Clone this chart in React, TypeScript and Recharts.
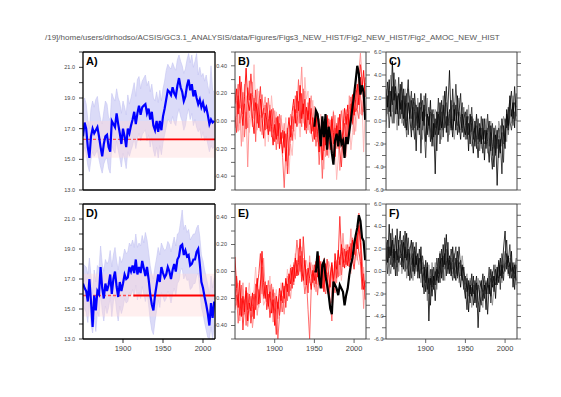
import {
  Area,
  ComposedChart,
  Line,
  ReferenceArea,
  ReferenceLine,
  XAxis,
  YAxis,
} from "recharts";

const TITLE =
  "/19]/home/users/dirhodso/ACSIS/GC3.1_ANALYSIS/data/Figures/Figs3_NEW_HIST/Fig2_NEW_HIST/Fig2_AMOC_NEW_HIST";
const FONT = "'Liberation Sans', Arial, sans-serif";

// two-yearly samples, 1850..2014
const years = Array.from({ length: 83 }, (_, i) => 1850 + 2 * i);
const OBS_START = 1950;
const X_DOMAIN: [number, number] = [1850, 2015];
const yearTicks = [1900, 1950, 2000];

const tempTicks = [13, 14, 15, 16, 17, 18, 19, 20, 21, 22];
const indexTicks = [-0.5, -0.4, -0.3, -0.2, -0.1, 0, 0.1, 0.2, 0.3, 0.4, 0.5];
const indexLabels = [-0.4, -0.2, 0, 0.2, 0.4];
const amocTicks = [-6, -5, -4, -3, -2, -1, 0, 1, 2, 3, 4, 5, 6];

// ---- A) ----
const aMean = [
  16.5, 17.4, 17.0, 15.8, 15.1, 16.5, 17.0, 16.7, 16.9, 17.1,
  16.5, 15.8, 15.2, 16.0, 16.5, 16.6, 15.8, 15.5, 17.5, 17.3,
  17.1, 18.0, 17.3, 16.7, 16.0, 17.0, 16.5, 15.8, 17.0, 16.7,
  17.2, 17.6, 18.1, 17.3, 18.0, 18.5, 17.9, 18.4, 18.5, 18.6,
  18.0, 18.3, 17.6, 18.1, 17.2, 16.9, 17.5, 16.8, 17.5, 16.9,
  17.8, 18.3, 18.9, 19.5, 19.4, 19.2, 19.7, 19.3, 19.1, 19.8,
  20.3, 19.7, 19.4, 18.8, 19.1, 19.8, 20.2, 19.5, 19.9, 19.1,
  19.5, 19.0, 18.6, 18.9, 18.4, 18.7, 18.2, 18.4, 17.9, 17.3,
  17.6, 17.4, 17.5,
];
const aHi = [
  18.4, 19.0, 18.6, 17.6, 17.0, 18.3, 18.8, 18.4, 18.9, 19.1,
  18.2, 17.6, 17.3, 18.1, 18.8, 18.6, 17.7, 17.6, 19.3, 19.0,
  18.8, 19.6, 19.0, 18.7, 18.0, 18.8, 18.4, 17.9, 19.2, 18.6,
  19.0, 19.5, 20.0, 19.1, 20.2, 20.4, 19.6, 20.1, 20.3, 20.5,
  19.8, 20.1, 19.4, 19.9, 19.0, 18.8, 19.4, 18.7, 19.5, 18.8,
  19.6, 20.1, 20.8, 21.2, 21.0, 20.9, 21.3, 21.0, 20.8, 21.5,
  21.8, 21.4, 21.1, 20.6, 20.9, 21.5, 21.9, 21.3, 21.8, 21.0,
  21.4, 21.9, 20.5, 21.0, 20.4, 20.6, 20.1, 20.5, 19.8, 19.3,
  21.1, 19.5, 19.4,
];
const aLo = [
  15.3, 15.8, 15.4, 14.6, 14.2, 15.0, 15.5, 15.2, 15.4, 15.6,
  15.0, 14.5, 14.1, 14.7, 15.0, 15.1, 14.4, 14.1, 15.9, 15.6,
  15.4, 16.2, 15.6, 15.1, 14.5, 15.4, 15.0, 14.4, 15.5, 15.2,
  15.6, 15.9, 16.4, 15.7, 16.3, 16.7, 16.2, 16.6, 16.8, 16.9,
  16.2, 16.6, 15.8, 16.4, 15.6, 15.2, 15.8, 15.1, 15.9, 15.3,
  16.1, 16.6, 17.1, 17.6, 17.5, 17.3, 17.8, 17.4, 17.2, 17.9,
  18.3, 17.8, 17.5, 16.9, 17.2, 17.9, 18.3, 17.6, 18.0, 17.2,
  17.6, 17.1, 16.8, 17.0, 16.4, 16.8, 16.2, 16.5, 16.0, 15.5,
  15.9, 15.7, 15.8,
];
const aClim = 16.3;
const aClimFrom = 1918;
const aRange: [number, number] = [15.1, 17.5];

// ---- D) ----
const dMean = [
  16.7, 16.4, 16.2, 15.5, 17.0, 15.5, 13.8, 15.9, 14.9, 16.2,
  16.0, 17.8, 16.4, 15.7, 16.7, 16.2, 16.6, 17.3, 16.0, 17.0,
  17.5, 16.5, 15.8, 16.8, 16.2, 16.7, 17.3, 17.0, 17.1, 17.8,
  17.5, 17.9, 17.4, 18.3, 17.3, 17.8, 17.4, 18.2, 17.7, 17.2,
  17.8, 17.0, 16.0, 15.3, 14.9, 15.9, 16.6, 17.3, 16.8, 17.8,
  17.4, 17.1, 17.3, 17.8, 17.5, 17.0, 17.6, 18.0, 17.5, 18.3,
  18.5, 19.2, 19.3, 18.6, 18.9, 18.5, 18.6, 17.9, 18.0, 18.3,
  18.3, 18.8, 19.0, 18.0, 16.8, 16.4, 15.8, 15.3, 14.7, 13.9,
  15.4, 14.4, 15.5,
];
const dHi = [
  18.0, 17.9, 17.8, 17.3, 18.4, 17.2, 16.0, 17.6, 16.8, 17.9,
  17.7, 19.2, 18.0, 17.5, 18.3, 18.0, 18.2, 18.9, 17.8, 18.6,
  19.1, 18.2, 17.6, 18.5, 18.1, 18.4, 19.0, 18.7, 18.8, 19.4,
  19.2, 19.6, 19.1, 20.0, 19.1, 19.4, 19.2, 19.9, 19.4, 20.1,
  19.6, 18.8, 17.9, 17.3, 17.0, 17.8, 18.4, 19.1, 18.6, 19.4,
  19.1, 18.9, 19.0, 19.5, 19.3, 18.8, 19.3, 19.8, 19.2, 20.0,
  20.1, 20.8, 21.6, 20.3, 20.6, 20.1, 20.3, 19.6, 19.8, 20.0,
  20.0, 20.4, 20.6, 19.8, 18.6, 18.2, 17.6, 17.1, 16.6, 15.9,
  17.2, 16.4, 17.1,
];
const dLo = [
  15.3, 15.0, 14.8, 14.1, 15.5, 14.0, 13.4, 14.4, 13.5, 14.8,
  14.5, 16.1, 14.9, 14.2, 15.2, 14.7, 15.1, 15.8, 14.5, 15.5,
  15.9, 14.9, 14.2, 15.2, 14.7, 15.1, 15.7, 15.4, 15.5, 16.1,
  15.9, 16.3, 15.8, 16.6, 15.6, 16.1, 15.7, 16.5, 16.0, 15.5,
  16.1, 15.3, 14.3, 13.6, 13.3, 14.2, 14.9, 15.6, 15.1, 16.1,
  15.8, 15.5, 15.7, 16.2, 15.9, 15.4, 16.0, 16.4, 15.9, 16.7,
  16.9, 17.6, 17.7, 17.0, 17.3, 16.9, 17.0, 16.3, 16.4, 16.7,
  16.7, 17.2, 17.4, 16.3, 15.1, 14.7, 14.1, 13.6, 13.1, 13.0,
  13.8, 13.0, 13.9,
];
const dClim = 15.9;
const dClimFrom = 1913;
const dRange: [number, number] = [14.5, 17.35];

// ---- B) ----
const b1 = [
  1.5, 2.8, 0.6, 3.9, 1.2, -0.4, 2.1, 4.6, 1.8, 0.9,
  2.4, 0.2, -1.1, 1.6, 0.8, -0.6, 1.9, 0.4, -1.5, 0.7,
  0.1, -1.2, 0.9, -0.5, -2.1, -0.3, -1.6, 0.4, -2.4, -1.0,
  -2.8, -0.9, -3.5, -1.2, 0.3, -1.4, 0.8, 1.9, -0.2, 2.6,
  0.9, 3.1, 0.2, 1.5, -0.8, 1.2, 0.1, 2.0, -1.1, 0.3,
  -1.6, 0.4, -0.9, -2.7, -1.0, -3.4, -0.6, -2.1, 0.5, -1.3,
  -2.5, 0.2, -1.0, -3.1, -0.4, -1.8, 0.6, -2.2, -0.7, 1.1,
  -0.3, 1.4, -1.2, 0.8, 2.3, 0.5, 1.9, 3.2, 1.4, 3.8,
  2.6, 4.4, 2.1,
];
const b2 = [
  0.4, -1.0, 2.2, 1.1, 3.4, 0.6, 1.5, -0.7, 2.9, 1.8,
  4.1, 2.3, 0.9, 2.7, -0.2, 1.4, 3.0, 0.3, 1.1, -0.8,
  1.6, 0.2, -0.9, 1.0, -0.5, -1.8, 0.3, -1.3, -0.2, -2.0,
  -0.8, -2.3, -1.1, -4.6, -2.0, -0.4, -1.7, 0.2, 1.0, -0.5,
  1.7, -0.2, 2.4, 0.6, 1.9, -0.6, 0.9, -0.3, 1.1, -0.9,
  0.2, -1.4, 0.7, -0.8, -2.0, -0.6, -2.6, -1.1, -3.0, -0.4,
  -1.2, 0.4, -2.0, -0.6, -1.5, 0.3, -2.6, -4.0, -1.4, -0.2,
  -1.8, 0.6, -0.5, 1.5, -0.2, 2.4, 0.8, 1.2, 3.1, 4.9,
  3.5, 2.0, 3.8,
];
const b3 = [
  -0.6, 1.8, 3.2, -0.2, 0.9, 2.5, -1.4, 0.8, -0.6, 3.5,
  1.2, -0.5, 2.0, -1.8, 1.5, 0.1, -0.9, 2.3, 0.6, 1.4,
  -0.7, 2.0, 0.5, -1.4, 1.1, -0.2, -2.5, -0.8, 0.6, -1.5,
  -3.2, -5.8, -2.6, -0.6, -3.0, -1.5, 0.4, -0.9, 2.2, 0.7,
  3.6, 1.0, -0.5, 2.8, 0.3, -1.1, 1.6, 0.6, -0.7, -1.8,
  -0.3, -2.2, -0.9, -3.8, -1.4, -5.0, -2.0, -0.7, -2.3, 0.2,
  -0.6, -2.8, 0.8, -1.3, -0.2, -2.4, -1.0, 0.9, -0.5, -2.0,
  0.4, -1.5, 1.0, 2.1, -0.3, 0.6, 2.7, 1.0, 0.2, 2.4,
  0.5, 1.9, 3.3,
];
const b4 = [
  2.6, 0.3, -0.9, 1.4, -2.2, 0.5, 3.2, 1.0, -4.0, 0.2,
  1.6, 3.4, 0.2, 1.0, 2.8, -0.3, 0.5, -1.2, 1.2, 2.1,
  0.3, -0.6, 1.4, 0.0, -1.0, 0.9, -0.6, -2.0, -0.4, 0.5,
  -1.5, -0.2, -2.2, -3.9, -1.0, 0.6, -0.7, 1.3, 0.2, -0.4,
  -0.1, 2.0, 4.7, 1.2, 2.6, 0.4, -0.8, 1.0, 2.2, 0.0,
  1.3, -0.5, -1.8, 0.2, -0.9, -2.2, -0.2, -3.1, -1.6, -2.4,
  0.1, -1.6, -2.9, 0.5, -2.4, -1.1, -4.3, -2.6, -1.2, 0.2,
  1.0, -0.8, 2.2, 0.0, 1.1, -1.2, 0.4, 2.0, 4.2, 5.9,
  3.6, 0.8, 1.2,
];
const b5 = [
  3.2, 1.0, 2.5, -0.8, 0.6, -1.8, 0.0, 2.2, 0.4, -1.0,
  0.4, 1.8, 4.9, 1.0, -0.8, 2.6, 0.9, -0.5, 0.3, -2.2,
  1.0, -1.8, -0.1, 2.2, 0.4, -1.2, 0.8, -0.2, -1.6, 0.2,
  -0.6, -1.8, 0.3, -2.4, -4.6, -2.0, -3.0, -0.8, -1.6, 1.4,
  0.3, -1.4, 0.9, -0.2, 3.8, 1.9, 2.6, -1.0, 0.5, 1.8,
  -0.9, 0.8, -0.4, -1.5, 0.6, -0.8, -4.2, -1.5, 0.3, -3.2,
  -1.9, -0.8, 0.9, -2.0, -5.1, -3.3, -0.5, -1.3, 1.0, -1.1,
  -3.1, -1.0, 0.3, -2.5, -1.0, 1.1, -0.9, 0.7, 2.0, 0.6,
  1.8, -2.7, 0.9,
];
// observations from 1950
const bObs = [
  -0.5, 0.9, 0.6, -0.5, -2.2, 0.4, -1.4, 0.6, -2.5, -0.5,
  -1.4, -2.8, -3.8, -1.7, -1.1, -2.2, -0.8, -2.0, -1.7, -3.2,
  -1.4, -2.0, -0.9, 0.1, 1.2, 2.3, 3.5, 4.8, 4.1, 2.3,
  3.1, 2.5, 0.1,
];

// ---- E) ----
const e1 = [
  1.3, -1.5, -3.2, -0.8, -4.0, -2.2, -3.6, -1.4, -4.4, -2.8,
  -3.5, -1.9, -4.2, -2.0, -0.6, -2.9, -1.2, 1.8, -1.0, -2.4,
  -1.2, -3.1, -1.8, -3.7, -2.5, -4.8, -2.2, -3.3, -1.5, -2.6,
  -1.0, -2.4, -0.6, -1.8, -0.2, -1.1, 0.4, -0.9, 1.2, -0.4,
  0.8, 2.9, 0.2, -0.8, 1.0, -1.2, 0.3, -0.6, -1.6, 0.1,
  -0.8, 0.9, -0.5, 1.4, -1.0, 0.2, -1.8, 0.7, -0.6, -2.2,
  -0.4, 0.8, -1.4, 1.6, 0.2, 1.9, 0.6, 2.4, 1.2, 0.3,
  1.8, 0.5, 2.2, 1.0, 2.8, 1.5, 3.3, 2.0, 4.1, 2.6,
  -0.4, -1.6, -0.8,
];
const e2 = [
  -2.6, -0.4, -1.8, -3.9, -2.4, -5.2, -3.0, -1.7, -3.4, -2.0,
  -4.6, -3.1, -2.0, -3.4, -1.4, -0.2, 1.6, -0.8, -2.2, -0.9,
  -3.4, -2.0, -4.1, -2.8, -1.6, -3.6, -5.6, -2.7, -3.9, -1.7,
  -2.8, -1.3, -3.2, -1.1, -2.2, 0.3, -1.5, 0.6, -0.6, 1.0,
  -0.3, 1.4, -0.9, 3.1, 0.7, -0.4, -1.9, 0.8, -0.2, -1.0,
  0.6, -1.1, 0.1, -0.9, 0.9, -1.5, 0.5, -0.8, 1.1, -0.3,
  -1.4, 0.6, -0.7, 0.9, -0.6, 1.2, 4.9, 1.8, 0.4, 2.0,
  0.6, 1.9, 0.4, 2.5, 1.1, 0.2, 1.6, 3.4, 1.8, 0.9,
  -1.6, -0.2, -2.5,
];
const e3 = [
  -3.4, -2.1, -4.6, -2.8, -1.2, -3.9, -2.5, -4.8, -1.9, -3.3,
  -2.2, -4.0, -2.7, -1.1, -3.0, -1.6, -2.8, 0.4, -2.4, -1.5,
  -2.7, -0.8, -2.3, -1.1, -3.7, -2.4, -3.2, -6.0, -4.0, -2.4,
  -3.6, -2.0, -0.9, -2.6, -0.8, -1.7, 0.1, -1.2, 0.9, 2.8,
  1.3, 0.0, 1.8, -0.5, -2.0, -0.7, -3.4, -6.0, -1.5, -0.2,
  -1.4, -0.2, -2.1, -0.4, -1.2, 0.6, -0.9, -2.0, -0.1, -1.6,
  -2.6, -4.4, -1.0, -1.9, 0.4, -0.5, 1.3, -0.3, 2.1, 0.8,
  1.5, 2.4, 0.9, 1.7, 3.0, 2.2, 1.4, 2.8, 5.2, 3.1,
  1.2, -0.9, -1.4,
];
const e4 = [
  -1.4, -3.0, -2.0, -4.4, -3.0, -1.0, -3.8, -2.6, -4.9, -3.6,
  -2.4, -5.0, -3.6, -2.2, -3.9, -2.5, -0.8, -2.0, 1.2, -1.4,
  -2.0, -3.3, -1.2, -2.0, -4.5, -1.9, -2.9, -4.2, -2.0, -3.6,
  -2.2, -3.8, -1.6, -0.4, -1.5, -2.4, -0.6, 0.8, -0.4, 0.4,
  2.1, 0.5, -0.4, 1.2, -1.2, 0.2, -1.0, 1.4, -0.8, 0.6,
  -0.5, -1.8, 0.8, -0.2, -1.4, -0.6, 1.2, -0.1, -1.1, 0.9,
  0.2, -2.8, -1.6, 0.4, -1.0, 0.9, -0.4, 1.0, 3.4, 1.4,
  2.4, 1.1, 1.6, 3.8, 0.8, 2.1, 2.6, 1.0, 2.2, 4.0,
  0.4, -3.3, -1.0,
];
const e5 = [
  -0.4, -2.8, -1.0, -2.2, -3.4, -1.6, -2.6, -3.8, -2.2, -1.0,
  -3.0, -2.2, -1.6, 0.4, -2.0, -3.2, -2.0, -1.2, -3.0, -2.6,
  -1.6, -2.6, -0.4, -3.0, -1.4, -2.8, -1.6, -3.4, -2.6, -1.0,
  -1.8, -2.8, -2.0, 0.2, -1.0, 0.6, -0.8, 0.2, 1.6, 0.0,
  -0.4, 0.6, 2.2, 0.4, -0.6, 1.0, 0.2, -1.0, 0.8, -0.4,
  -1.6, -0.4, -1.2, 0.2, -0.4, -1.4, 0.4, -0.6, -2.0, 0.0,
  -1.0, -0.2, -2.2, -0.6, 1.0, -0.4, 0.8, -0.8, 0.6, 1.6,
  0.4, 1.0, 2.0, -0.2, 1.4, 0.8, 2.4, 1.2, 0.6, 1.8,
  -0.6, 0.4, -1.8,
];
const eObs = [
  0.0, 0.0, 1.8, -0.6, -1.5, 0.6, 0.9, -0.4, -1.2, -2.1,
  -3.3, -3.8, -0.9, -1.2, -1.5, -2.1, -1.2, -1.5, -1.8, -3.0,
  -2.1, -1.5, -0.3, 0.6, 1.2, 2.4, 3.2, 3.9, 5.0, 4.5,
  3.0, 2.7, 1.0,
];

// ---- C) ----
const c1 = [
  2.8, 1.2, 3.6, 0.4, 5.2, 1.8, 3.0, 0.6, 2.4, 1.0,
  3.4, 0.2, 2.2, -0.8, 1.6, 0.4, -1.4, 2.0, 0.8, -2.6,
  1.2, -0.6, 2.4, 0.0, 1.4, -1.8, 0.6, -0.4, 1.8, -2.2,
  -0.2, -4.6, 0.8, -1.2, 1.6, -0.6, 0.4, 2.6, -1.0, 1.2,
  4.4, 0.2, -1.4, 1.0, -0.8, 2.2, -0.2, -1.6, 0.6, -0.4,
  -1.2, 0.4, -2.6, 0.6, -1.0, -2.8, 0.0, -1.4, -3.2, -0.6,
  -2.0, 0.2, -3.4, -0.8, -1.8, -3.6, -0.4, -2.2, -4.0, -1.2,
  -5.6, -1.6, -2.8, 0.2, -1.2, -2.4, 1.0, -0.4, 2.2, 0.4,
  1.6, -0.6, 2.4,
];
const c2 = [
  1.2, 3.4, 0.8, 2.6, 1.4, 4.2, 0.6, 2.2, -0.4, 3.2,
  0.6, 2.8, -0.6, 1.6, 3.6, 0.2, 1.8, -0.8, 2.4, 0.6,
  -0.8, 1.6, -2.8, 0.8, -0.4, 2.4, -1.2, 0.4, -1.8, 1.0,
  -1.4, 0.2, -2.6, 0.6, -0.8, 1.8, -1.4, 0.8, 3.0, -0.4,
  1.0, -0.8, 2.8, 0.0, 1.4, -1.2, 0.8, 2.4, -1.0, 0.2,
  0.8, -1.6, -0.2, -2.0, 0.4, -0.8, -2.2, 0.6, -1.6, -0.2,
  -1.2, -2.8, 0.2, -2.4, -1.0, 0.0, -2.6, -4.2, -0.6, -2.8,
  -0.8, -3.2, -1.6, -4.6, -0.4, -1.8, 0.6, -0.8, 1.4, 2.6,
  0.2, 3.0, 0.4,
];
const c3 = [
  0.4, 2.2, -0.6, 1.6, 3.0, -0.2, 2.4, 1.0, 3.8, 0.2,
  1.8, -0.4, 0.8, 2.4, -1.2, 1.0, 2.6, -0.2, -1.6, 1.4,
  0.2, -1.2, 0.8, 1.8, -0.6, -3.2, 0.2, 1.2, -0.8, -1.6,
  0.6, -1.2, -0.4, 2.0, -2.0, -0.2, 1.4, -0.6, 0.4, -1.8,
  -0.2, 1.8, -0.8, 0.6, 3.2, 0.8, -1.0, 0.4, 1.6, -1.4,
  -0.4, 1.0, -1.2, -0.4, 1.2, -1.6, -0.6, -2.4, 0.2, -1.8,
  0.4, -1.6, -0.8, -2.0, 0.6, -1.4, -2.6, -0.2, -1.8, -3.0,
  -1.4, -0.6, -2.2, -1.0, -3.6, 0.2, -0.6, 1.2, 0.0, -0.8,
  0.6, 1.6, 1.2,
];
const c4 = [
  2.0, 0.6, 1.8, 4.0, 0.8, 2.6, 1.2, -0.8, 1.8, 2.8,
  -0.2, 1.4, 2.8, 0.0, 0.8, 2.2, -0.6, 0.6, 1.6, -0.4,
  2.0, 0.2, -0.4, -1.6, 1.0, 0.4, 2.0, -1.4, 0.6, 0.0,
  -2.2, 1.0, 0.6, -0.8, 0.4, -1.6, 2.2, 0.0, -0.6, 0.8,
  -1.2, 0.6, 1.4, -1.6, -0.2, 1.2, 2.0, -0.8, -0.2, 0.8,
  0.2, -0.8, 1.4, -1.2, -2.2, 0.2, -1.0, 0.4, -2.0, -1.0,
  -2.4, -0.6, -1.6, 0.2, -2.8, -1.0, 0.0, -1.6, -2.4, -0.6,
  -2.0, 0.0, -0.6, -2.2, 0.4, -0.2, -1.8, 0.8, 1.8, -0.2,
  2.2, 0.0, 1.8,
];
const c5 = [
  -0.6, 1.6, 2.6, 1.0, -0.2, 2.0, 3.6, 1.4, 0.2, 1.6,
  1.0, 2.2, 0.2, -1.4, 2.8, 1.6, 0.2, 1.2, -0.6, 0.8,
  -0.2, 0.8, 1.2, -0.8, 2.2, 0.8, -1.0, -0.4, 0.8, 0.4,
  1.0, -0.6, 0.0, 0.8, -0.4, 0.8, -0.8, 1.2, 1.6, -1.0,
  0.6, -0.6, 0.2, 1.6, 0.4, -0.4, 0.8, 0.0, -0.6, 1.2,
  -1.6, -0.2, 0.4, -1.0, -0.2, -1.2, -1.8, -0.4, -0.8, -2.6,
  -0.6, -1.2, -2.0, -1.4, -0.6, -2.2, -1.0, -3.0, -1.2, -0.4,
  -2.4, -1.2, -0.4, -1.6, -2.0, -1.0, 0.4, -1.2, 0.2, 1.0,
  -0.4, 0.8, 0.0,
];

// ---- F) ----
const f1 = [
  2.6, 0.8, 4.2, 1.4, 2.8, 0.2, 3.2, 1.0, 2.4, 3.6,
  0.4, 2.6, 1.2, 3.4, -0.4, 1.8, 2.8, 0.0, 2.2, 0.6,
  1.6, -0.6, 2.2, -1.4, 0.4, -1.8, 0.8, -4.4, -0.6, -2.2,
  -0.4, -2.6, 0.2, -1.0, 1.6, -0.6, 2.4, 0.6, 3.3, 0.2,
  1.4, -0.4, 2.2, 0.4, -0.8, 1.8, 0.0, -1.4, 0.6, -1.2,
  -2.4, -0.6, -3.6, -1.2, -2.2, -0.4, -2.8, -1.0, -5.0, -1.6,
  -0.8, -2.6, -1.2, -3.4, -0.6, -2.0, 0.2, -1.4, -0.4, -2.4,
  0.4, -1.0, 1.2, -0.6, 2.0, 3.6, 0.2, 1.4, -0.6, 1.8,
  -1.4, 0.6, -0.8,
];
const f2 = [
  0.6, 2.8, 1.2, 3.4, 0.4, 2.0, -0.4, 3.8, 0.8, 1.6,
  2.8, 0.2, 3.6, 1.0, 2.0, -0.8, 1.2, 2.6, -0.2, 1.4,
  0.0, 2.0, 0.6, -0.4, -2.0, 1.0, -1.6, -0.6, -3.0, 0.2,
  -1.6, 0.0, -0.8, 1.2, -1.0, 2.0, 0.4, 1.6, -0.4, 2.6,
  -0.2, 2.0, 0.8, -0.6, 1.2, -0.4, 2.2, 0.4, -0.8, 0.4,
  -1.4, -3.4, -0.8, -2.0, -0.2, -3.0, -1.6, -0.4, -2.6, -3.6,
  -1.6, -0.2, -2.4, -1.0, -3.8, -1.2, -2.2, 0.0, -1.8, 0.2,
  -1.2, 1.0, -0.4, 0.6, -0.8, 1.4, 2.8, -0.2, 0.8, -0.6,
  0.8, -1.6, 0.6,
];
const f3 = [
  1.8, -0.2, 2.2, 0.6, 3.8, 1.2, 1.8, -0.4, 2.8, 1.2,
  1.6, 3.2, 0.0, 1.6, 3.0, 0.8, -0.6, 1.6, 0.4, 2.6,
  -0.6, 1.2, -0.2, 1.4, 0.2, -1.0, 0.4, -2.0, 0.2, -1.4,
  0.4, -1.2, 1.2, -0.2, 0.6, 1.2, -0.8, 3.0, 1.0, -0.2,
  1.0, 0.2, -0.8, 1.2, 2.2, -0.6, 0.6, 1.0, -0.4, -1.6,
  -0.4, -1.8, -1.0, -2.8, -1.4, -2.0, -0.8, -3.2, -1.2, -2.2,
  -3.0, -1.2, -0.4, -2.0, -1.2, 0.4, -2.8, -0.6, 0.6, -1.2,
  -0.4, 0.8, -1.6, 1.6, 0.4, 0.0, 1.6, 0.8, 2.4, 0.0,
  0.4, -0.6, 1.2,
];
const f4 = [
  3.0, 1.6, -0.4, 2.2, 1.0, 3.0, 0.8, 2.0, 0.0, 2.4,
  -0.2, 1.2, 2.0, -0.6, 1.2, 2.2, 0.4, -0.8, 1.8, 0.0,
  1.2, 0.2, -1.0, 0.8, -0.8, 0.2, -2.6, 0.6, -1.2, 0.8,
  -0.8, 0.8, -1.6, 0.4, 1.8, -0.2, 1.0, -0.8, 2.0, 0.8,
  0.0, 1.2, -0.2, 0.8, -0.2, 1.0, -1.0, 0.2, 1.4, 0.0,
  -0.8, -0.2, -2.2, -0.6, -3.2, -1.2, -2.0, -2.8, -0.6, -1.4,
  -2.2, -3.2, -0.8, -1.4, -2.0, -0.4, -1.0, -3.0, -1.6, 0.6,
  -0.6, 0.2, 0.6, -1.0, 0.8, 1.8, 0.6, -0.4, 1.2, 1.0,
  0.0, 0.8, -1.2,
];
const f5 = [
  1.0, 2.2, 0.8, -0.2, 1.6, 2.4, 1.2, 0.4, 1.4, 0.6,
  1.2, 0.8, 2.2, 0.2, 0.6, 1.6, 0.6, 1.2, -0.4, 1.0,
  0.4, 0.8, 1.4, 0.2, 0.6, -0.6, -0.2, -1.0, -0.4, -0.8,
  -1.2, -0.2, 0.4, -0.6, 0.0, 0.6, 1.4, 0.2, 0.6, 1.2,
  0.6, 0.8, 0.2, 1.6, 0.4, 0.2, 0.8, -0.4, 0.4, -0.2,
  -1.0, -1.4, -1.6, -0.8, -1.2, -1.8, -1.2, -1.6, -1.4, -0.8,
  -1.4, -1.8, -1.6, -0.8, -1.4, -1.2, -0.6, -1.0, -0.4, -0.8,
  -0.2, -0.6, 0.0, 0.2, -0.2, 0.6, 1.0, 0.4, 0.6, 0.2,
  0.2, -0.2, 0.4,
];

const redShades = ["#ffb4b4", "#ff8c8c", "#ff5a5a", "#ff2a2a", "#ff0000"];
const greyShades = ["#8a8a8a", "#5a5a5a", "#2a2a2a", "#111111", "#000000"];

type Row = Record<string, number | number[] | null>;

function tempRows(mean: number[], lo: number[], hi: number[]): Row[] {
  return years.map((year, i) => ({ year, mean: mean[i], band: [lo[i], hi[i]] }));
}

function memberRows(members: number[][], obs?: number[]): Row[] {
  return years.map((year, i) => {
    const row: Row = { year };
    members.forEach((m, k) => {
      row["m" + k] = m[i];
    });
    if (obs) row.obs = year >= OBS_START ? obs[(year - OBS_START) / 2] : null;
    return row;
  });
}

type Box = { x: number; y: number; w: number; h: number };
const PAD = { l: 30, r: 30, t: 8, b: 18 };

type Side = {
  domain: [number, number];
  ticks?: number[];
  fmt?: (v: number) => string;
};

const tickFont = { fontSize: 5.5, fill: "#444", fontFamily: FONT };
const yearFont = { fontSize: 7.5, fill: "#444", fontFamily: FONT };

const tempFmt = (v: number) => (v % 2 === 1 ? v.toFixed(1) : "");
const indexFmt = (v: number) => (indexLabels.includes(v) ? v.toFixed(2) : "");
const amocFmt = (v: number) => (v % 2 === 0 ? v.toFixed(1) : "");
const blank = () => "";

function Panel(props: {
  box: Box;
  data: Row[];
  left: Side;
  right: Side;
  labels: boolean;
  frame: string;
  children: React.ReactNode;
}) {
  const { box, data, left, right, labels, frame } = props;
  const axisLine = { stroke: frame, strokeWidth: frame === "#000" ? 1.3 : 1 };
  const tickLine = { stroke: frame, strokeWidth: 0.8 };
  const yAxis = (id: string, side: Side, orientation: "left" | "right") => (
    <YAxis
      yAxisId={id}
      orientation={orientation}
      type="number"
      width={orientation === "left" ? PAD.l : PAD.r}
      domain={side.domain}
      allowDataOverflow
      ticks={side.ticks}
      interval={0}
      tickCount={side.ticks ? side.ticks.length : 2}
      tickFormatter={side.fmt ?? blank}
      tick={side.ticks ? tickFont : false}
      tickLine={side.ticks ? tickLine : false}
      tickSize={4}
      tickMargin={4}
      axisLine={axisLine}
    />
  );
  return (
    <div style={{ position: "absolute", left: box.x - PAD.l, top: box.y - PAD.t }}>
      <ComposedChart
        width={box.w + PAD.l + PAD.r}
        height={box.h + PAD.t + PAD.b}
        data={data}
        margin={{ top: 0, right: 0, bottom: 0, left: 0 }}
      >
        <XAxis
          xAxisId="b"
          dataKey="year"
          type="number"
          domain={X_DOMAIN}
          allowDataOverflow
          ticks={yearTicks}
          interval={0}
          height={PAD.b}
          tick={labels ? yearFont : false}
          tickFormatter={labels ? (v: number) => String(v) : blank}
          tickLine={tickLine}
          tickSize={4}
          tickMargin={3}
          axisLine={axisLine}
        />
        <XAxis
          xAxisId="t"
          orientation="top"
          dataKey="year"
          type="number"
          domain={X_DOMAIN}
          allowDataOverflow
          ticks={yearTicks}
          interval={0}
          height={PAD.t}
          tick={false}
          tickLine={tickLine}
          tickSize={4}
          axisLine={axisLine}
        />
        {yAxis("l", left, "left")}
        {yAxis("r", right, "right")}
        {props.children}
      </ComposedChart>
    </div>
  );
}

function tempSeries(range: [number, number], clim: number, climFrom: number) {
  return [
    <Area
      key="band"
      xAxisId="b"
      yAxisId="l"
      dataKey="band"
      type="linear"
      stroke="#c4c4f2"
      strokeWidth={0.6}
      fill="#d2d2f6"
      fillOpacity={0.8}
      isAnimationActive={false}
    />,
    <ReferenceArea
      key="range"
      xAxisId="b"
      yAxisId="l"
      x1={X_DOMAIN[0]}
      x2={X_DOMAIN[1]}
      y1={range[0]}
      y2={range[1]}
      fill="#ffd6d6"
      fillOpacity={0.4}
      stroke="none"
    />,
    <ReferenceLine
      key="climDash"
      xAxisId="b"
      yAxisId="l"
      segment={[
        { x: X_DOMAIN[0], y: clim },
        { x: climFrom, y: clim },
      ]}
      stroke="#ff5050"
      strokeWidth={1.3}
      strokeDasharray="3 2"
    />,
    <ReferenceLine
      key="clim"
      xAxisId="b"
      yAxisId="l"
      segment={[
        { x: climFrom, y: clim },
        { x: X_DOMAIN[1], y: clim },
      ]}
      stroke="#ff0000"
      strokeWidth={1.8}
    />,
    <Line
      key="mean"
      xAxisId="b"
      yAxisId="l"
      dataKey="mean"
      type="linear"
      stroke="#0000ff"
      strokeWidth={2.2}
      dot={false}
      isAnimationActive={false}
    />,
  ];
}

function memberSeries(axis: string, count: number, colors: string[], width: number, obs: boolean) {
  const lines = Array.from({ length: count }, (_, k) => (
    <Line
      key={"m" + k}
      xAxisId="b"
      yAxisId={axis}
      dataKey={"m" + k}
      type="linear"
      stroke={colors[k]}
      strokeWidth={width}
      dot={false}
      isAnimationActive={false}
    />
  ));
  if (obs) {
    lines.push(
      <Line
        key="obs"
        xAxisId="b"
        yAxisId={axis}
        dataKey="obs"
        type="linear"
        stroke="#000"
        strokeWidth={2.2}
        dot={false}
        connectNulls={false}
        isAnimationActive={false}
      />
    );
  }
  return lines;
}

const boxes: Record<string, Box> = {
  A: { x: 83, y: 52, w: 132, h: 138 },
  B: { x: 235, y: 52, w: 131, h: 138 },
  C: { x: 386, y: 52, w: 131, h: 138 },
  D: { x: 83, y: 204, w: 132, h: 135 },
  E: { x: 235, y: 204, w: 131, h: 135 },
  F: { x: 386, y: 204, w: 131, h: 135 },
};

const tempAxis: Side = { domain: [13, 22], ticks: tempTicks, fmt: tempFmt };
const noAxis: Side = { domain: [0, 1] };
const indexAxis: Side = { domain: [-0.5, 0.5], ticks: indexTicks, fmt: indexFmt };
const amocAxis: Side = { domain: [-6, 6], ticks: amocTicks, fmt: amocFmt };
const amocBare: Side = { domain: [-6, 6], ticks: amocTicks };

const aData = tempRows(aMean, aLo, aHi);
const dData = tempRows(dMean, dLo, dHi);
const bData = memberRows([b5, b4, b3, b2, b1], bObs);
const eData = memberRows([e5, e4, e3, e2, e1], eObs);
const cData = memberRows([c4, c5, c3, c2, c1]);
const fData = memberRows([f4, f5, f3, f2, f1]);

export default function App() {
  return (
    <div
      style={{
        position: "absolute",
        left: 0,
        top: 0,
        width: 561,
        height: 397,
        background: "#fff",
        overflow: "hidden",
      }}
    >
      <Panel box={boxes.A} data={aData} left={tempAxis} right={noAxis} labels={false} frame="#000">
        {tempSeries(aRange, aClim, aClimFrom)}
      </Panel>
      <Panel box={boxes.B} data={bData} left={indexAxis} right={amocAxis} labels={false} frame="#444">
        {memberSeries("r", 5, redShades, 0.9, true)}
      </Panel>
      <Panel box={boxes.C} data={cData} left={amocBare} right={amocBare} labels={false} frame="#444">
        {memberSeries("l", 5, greyShades, 0.8, false)}
      </Panel>
      <Panel box={boxes.D} data={dData} left={tempAxis} right={noAxis} labels frame="#000">
        {tempSeries(dRange, dClim, dClimFrom)}
      </Panel>
      <Panel box={boxes.E} data={eData} left={indexAxis} right={amocAxis} labels frame="#444">
        {memberSeries("r", 5, redShades, 0.9, true)}
      </Panel>
      <Panel box={boxes.F} data={fData} left={amocBare} right={amocBare} labels frame="#444">
        {memberSeries("l", 5, greyShades, 0.8, false)}
      </Panel>
      <svg
        width={561}
        height={397}
        style={{ position: "absolute", left: 0, top: 0, pointerEvents: "none" }}
      >
        <text x={45} y={40} fontSize={8} fill="#555" fontFamily={FONT}>
          {TITLE}
        </text>
        {Object.keys(boxes).map((k) => (
          <text
            key={k}
            x={boxes[k].x + 3}
            y={boxes[k].y + 13}
            fontSize={11}
            fontWeight="bold"
            fill="#000"
            fontFamily={FONT}
          >
            {k + ")"}
          </text>
        ))}
      </svg>
    </div>
  );
}
